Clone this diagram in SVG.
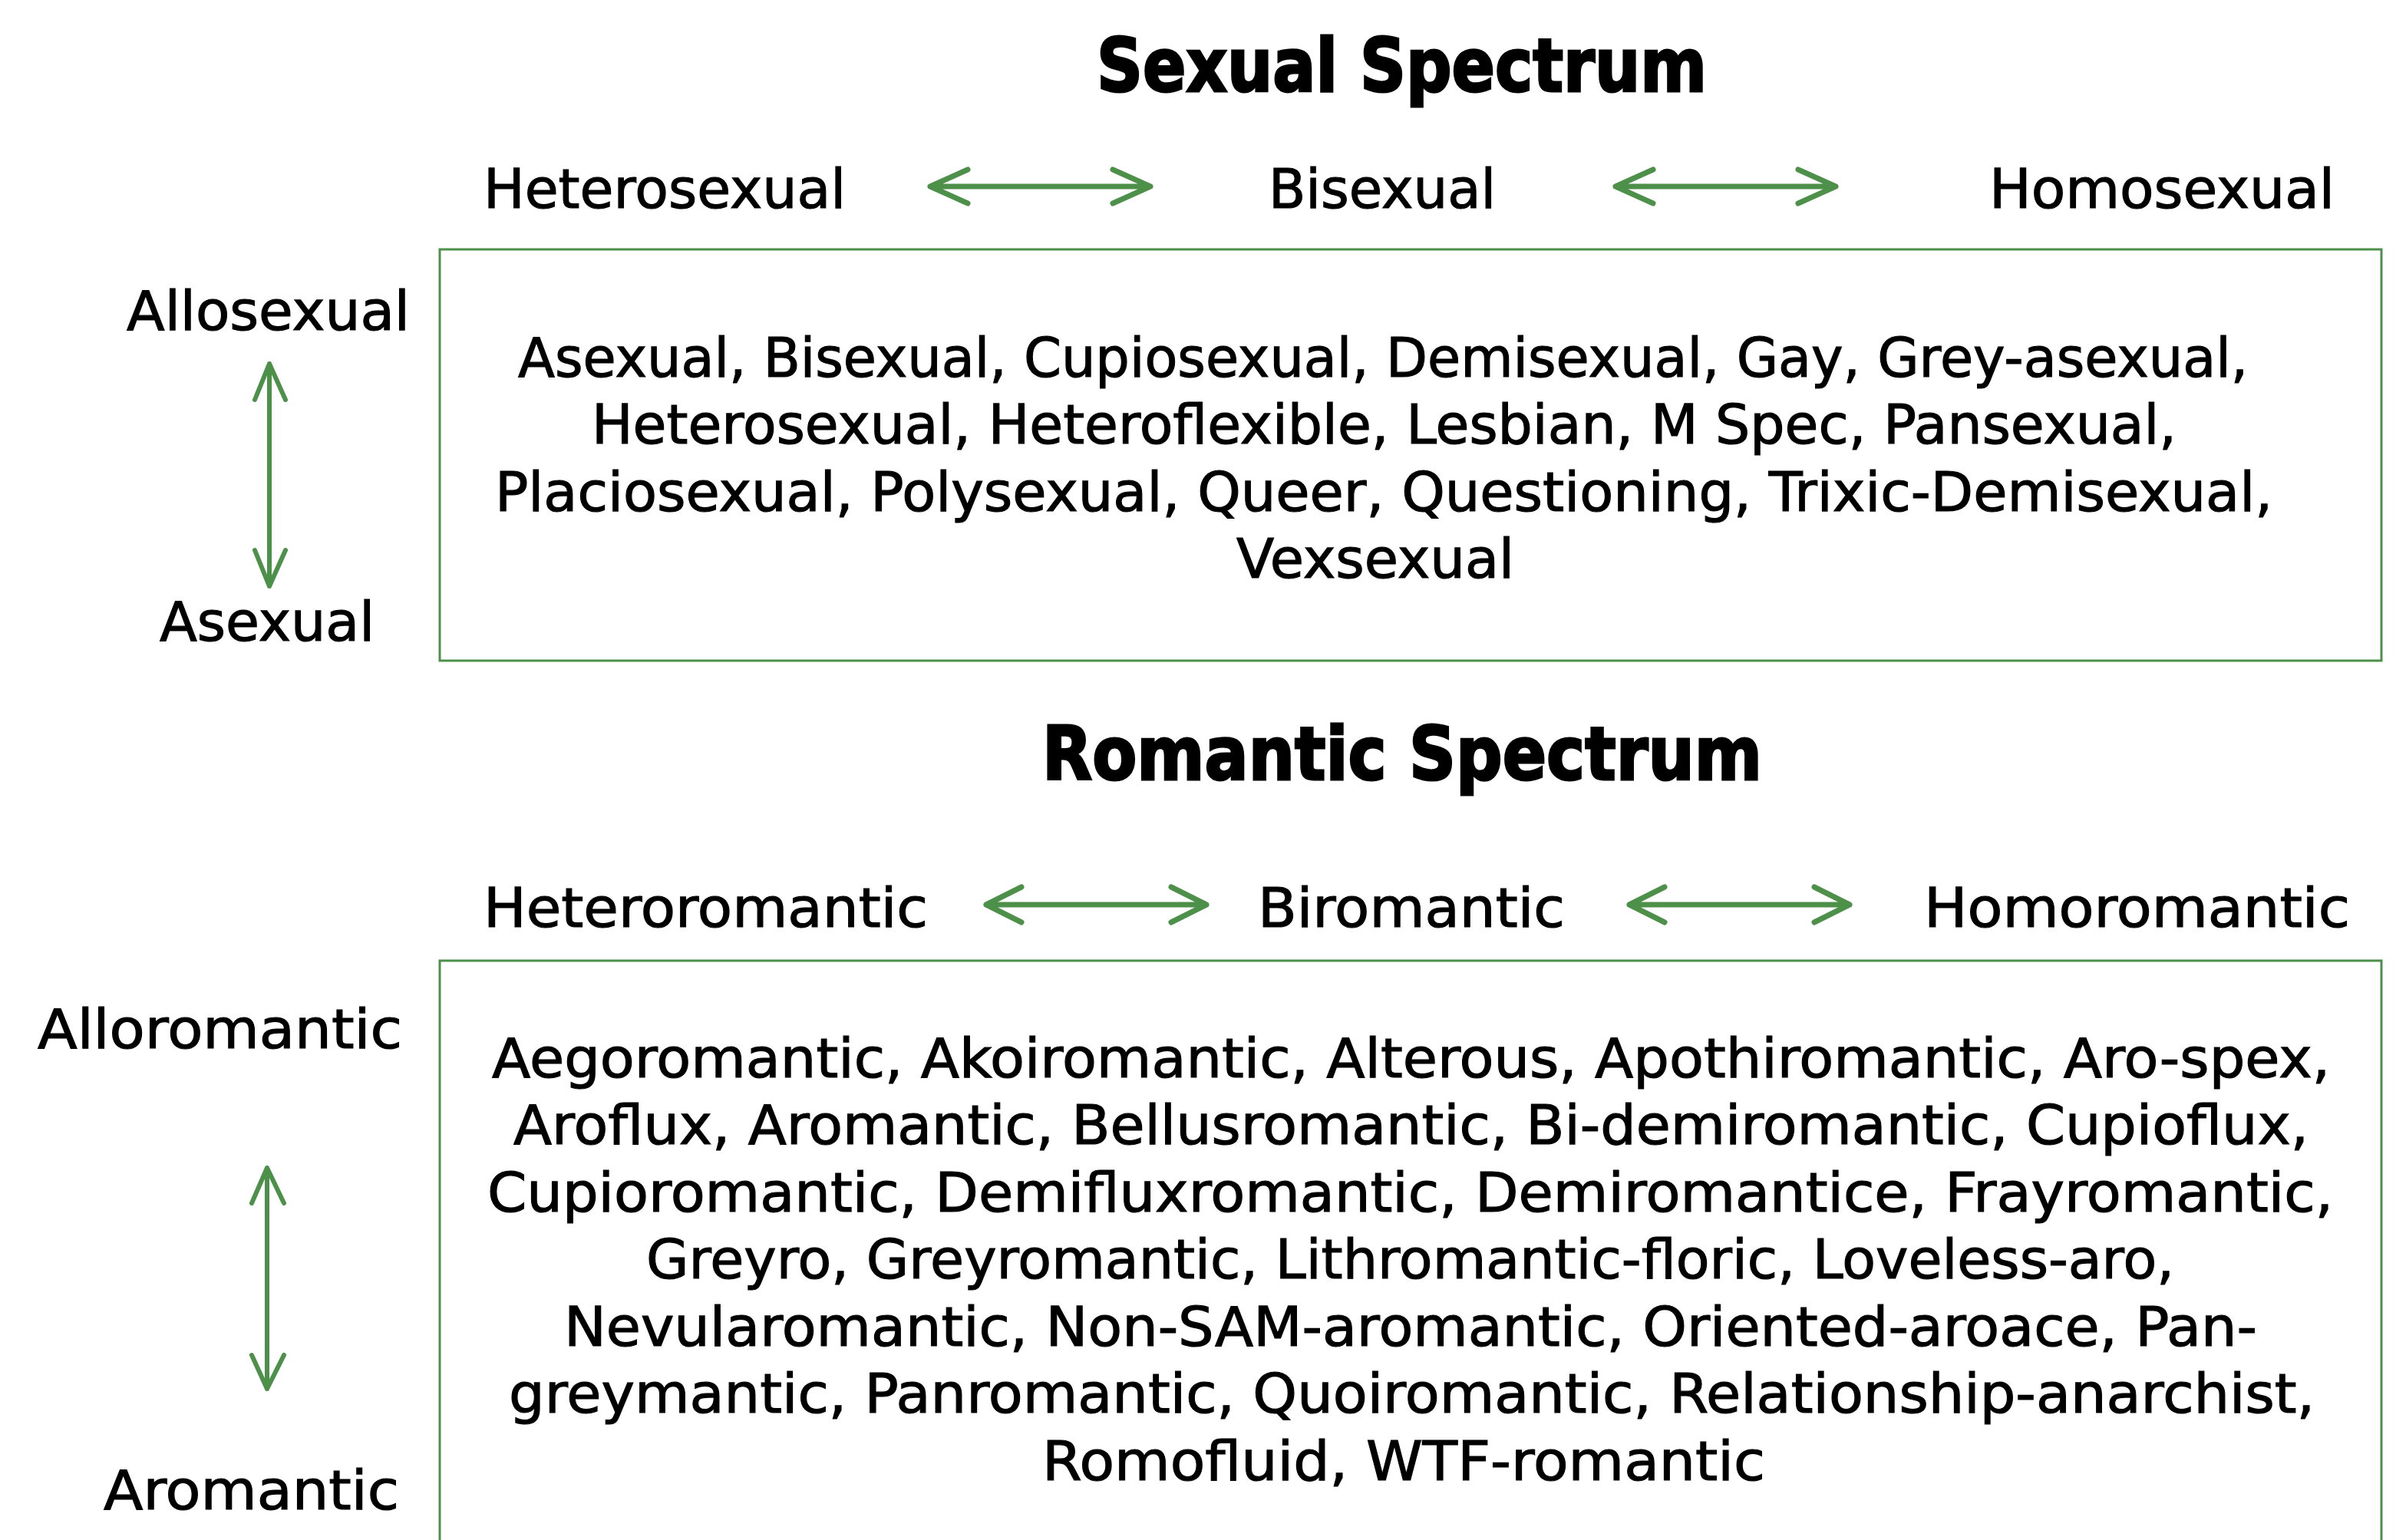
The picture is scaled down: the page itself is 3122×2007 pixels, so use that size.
<svg xmlns="http://www.w3.org/2000/svg" width="3122" height="2007" viewBox="0 0 3122 2007">
<style>
text{font-family:"DejaVu Sans","Liberation Sans",sans-serif;fill:#000;stroke:#000;stroke-width:1.2}
.t{font-weight:bold;font-size:96px;stroke-width:3}
.l{font-size:72px}
.b{font-size:72px}
.box{fill:none;stroke:#4d9049;stroke-width:3}
.ar{fill:none;stroke:#4d9049;stroke-width:7;stroke-linecap:round;stroke-linejoin:round}
.av{fill:none;stroke:#4d9049;stroke-width:6;stroke-linecap:round;stroke-linejoin:round}
</style>
<rect width="3122" height="2007" fill="#fff"/>
<g id="sexual-title"><text class="t" x="1429" y="119" textLength="795" lengthAdjust="spacingAndGlyphs">Sexual Spectrum</text></g>
<g id="heterosexual"><text class="l" x="630" y="271" textLength="472" lengthAdjust="spacingAndGlyphs">Heterosexual</text></g>
<g id="bisexual"><text class="l" x="1653" y="271" textLength="296" lengthAdjust="spacingAndGlyphs">Bisexual</text></g>
<g id="homosexual"><text class="l" x="2592" y="271" textLength="450" lengthAdjust="spacingAndGlyphs">Homosexual</text></g>
<g id="allosexual"><text class="l" x="165" y="430" textLength="369" lengthAdjust="spacingAndGlyphs">Allosexual</text></g>
<g id="asexual"><text class="l" x="208" y="835" textLength="280" lengthAdjust="spacingAndGlyphs">Asexual</text></g>
<g id="sexual-box">
<rect class="box" x="573" y="325" width="2530" height="536"/>
<text class="b" x="675" y="491" textLength="2254" lengthAdjust="spacingAndGlyphs">Asexual, Bisexual, Cupiosexual, Demisexual, Gay, Grey-asexual,</text>
<text class="b" x="771" y="578" textLength="2065" lengthAdjust="spacingAndGlyphs">Heterosexual, Heteroflexible, Lesbian, M Spec, Pansexual,</text>
<text class="b" x="645" y="666" textLength="2316" lengthAdjust="spacingAndGlyphs">Placiosexual, Polysexual, Queer, Questioning, Trixic-Demisexual,</text>
<text class="b" x="1611" y="753" textLength="362" lengthAdjust="spacingAndGlyphs">Vexsexual</text>
</g>
<g id="romantic-title"><text class="t" x="1358" y="1016" textLength="938" lengthAdjust="spacingAndGlyphs">Romantic Spectrum</text></g>
<g id="heteroromantic"><text class="l" x="630" y="1208" textLength="579" lengthAdjust="spacingAndGlyphs">Heteroromantic</text></g>
<g id="biromantic"><text class="l" x="1639" y="1208" textLength="400" lengthAdjust="spacingAndGlyphs">Biromantic</text></g>
<g id="homoromantic"><text class="l" x="2507" y="1208" textLength="555" lengthAdjust="spacingAndGlyphs">Homoromantic</text></g>
<g id="alloromantic"><text class="l" x="49" y="1366" textLength="475" lengthAdjust="spacingAndGlyphs">Alloromantic</text></g>
<g id="aromantic"><text class="l" x="135" y="1967" textLength="385" lengthAdjust="spacingAndGlyphs">Aromantic</text></g>
<g id="romantic-box">
<rect class="box" x="573" y="1252" width="2530" height="800"/>
<text class="b" x="641" y="1404" textLength="2395" lengthAdjust="spacingAndGlyphs">Aegoromantic, Akoiromantic, Alterous, Apothiromantic, Aro-spex,</text>
<text class="b" x="669" y="1491" textLength="2339" lengthAdjust="spacingAndGlyphs">Aroflux, Aromantic, Bellusromantic, Bi-demiromantic, Cupioflux,</text>
<text class="b" x="635" y="1579" textLength="2405" lengthAdjust="spacingAndGlyphs">Cupioromantic, Demifluxromantic, Demiromantice, Frayromantic,</text>
<text class="b" x="842" y="1666" textLength="1991" lengthAdjust="spacingAndGlyphs">Greyro, Greyromantic, Lithromantic-floric, Loveless-aro,</text>
<text class="b" x="735" y="1754" textLength="2206" lengthAdjust="spacingAndGlyphs">Nevularomantic, Non-SAM-aromantic, Oriented-aroace, Pan-</text>
<text class="b" x="663" y="1841" textLength="2353" lengthAdjust="spacingAndGlyphs">greymantic, Panromantic, Quoiromantic, Relationship-anarchist,</text>
<text class="b" x="1358" y="1929" textLength="942" lengthAdjust="spacingAndGlyphs">Romofluid, WTF-romantic</text>
</g>
<g id="connectors">
<path class="ar" d="M1212 243 H1499 M1261 221 L1212 243 L1261 265 M1450 221 L1499 243 L1450 265"/>
<path class="ar" d="M2105 243 H2392 M2154 221 L2105 243 L2154 265 M2343 221 L2392 243 L2343 265"/>
<path class="ar" d="M1285 1179 H1572 M1331 1156 L1285 1179 L1331 1202 M1526 1156 L1572 1179 L1526 1202"/>
<path class="ar" d="M2123 1179 H2410 M2169 1156 L2123 1179 L2169 1202 M2364 1156 L2410 1179 L2364 1202"/>
<path class="av" d="M351 474 V764 M332 521 L351 474 L372 521 M332 717 L351 764 L372 717"/>
<path class="av" d="M348 1522 V1810 M328 1568 L348 1522 L370 1568 M328 1766 L348 1810 L370 1766"/>
</g>
</svg>
